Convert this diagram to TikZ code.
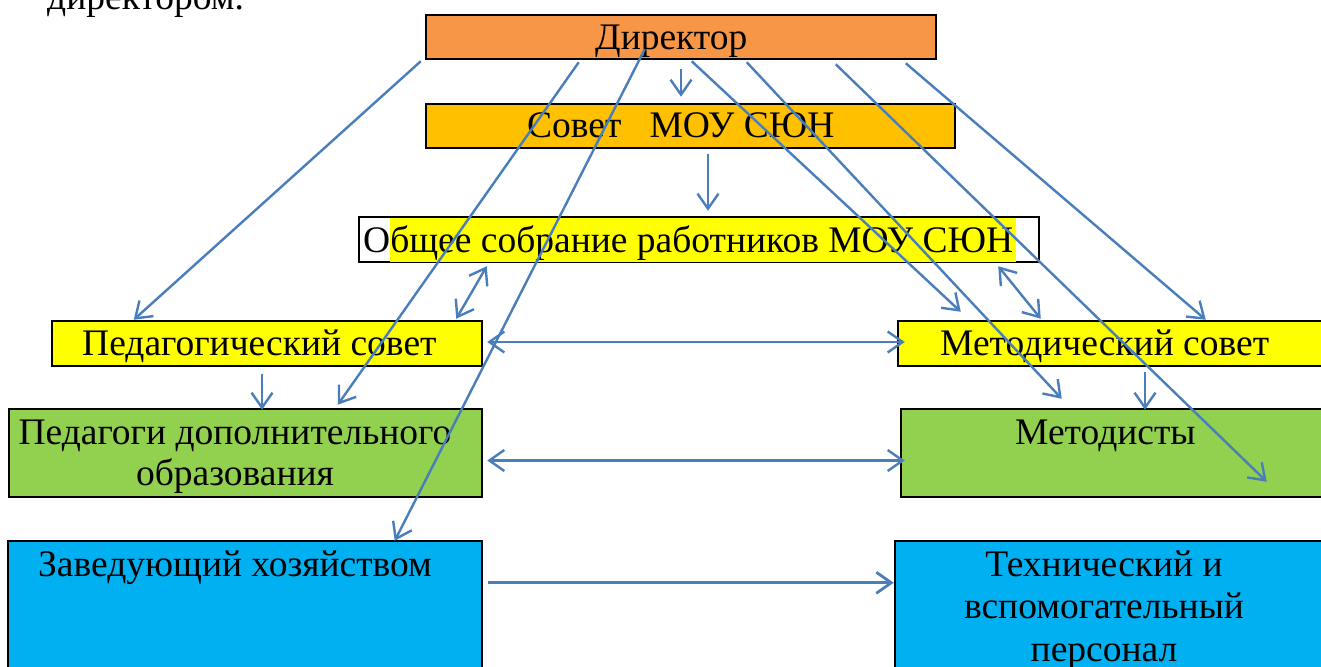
\documentclass[tikz,border=0pt]{standalone}
\usepackage{fontspec}
\setmainfont{Liberation Serif}
\usetikzlibrary{arrows.meta,fit}

\definecolor{dirorange}{HTML}{F79646}
\definecolor{sovgold}{HTML}{FFC000}
\definecolor{hlyellow}{HTML}{FFFF00}
\definecolor{boxgreen}{HTML}{92D050}
\definecolor{boxcyan}{HTML}{00B0F0}
\definecolor{arrblue}{HTML}{4A7EBB}

\tikzset{
    box/.style={draw=black, line width=2.5pt, inner sep=0pt},
    lbl/.style={font=\fontsize{37.5}{41}\selectfont, inner sep=0pt, anchor=base west},
    barb/.tip={Straight Barb[length=15pt,width=21pt]},
    arr/.style={draw=arrblue, line width=2.4pt, -barb},
    darr/.style={draw=arrblue, line width=2.4pt, barb-barb},
}

\begin{document}
\begin{tikzpicture}[x=1pt, y=-1pt]
        \useasboundingbox (0,0) rectangle (1321,666);

        \node[lbl] (prev) at (47,10) {директором.};

        \node[box, fill=dirorange, fit={(426,15) (936,59)}] (dir) {};
        \node[box, fill=sovgold, fit={(426,104) (955,148)}] (sovet) {};
        \node[box, fill=white, fit={(359,217) (1039,262)}] (sobr) {};
        \fill[hlyellow] ([xshift=32pt,yshift=-2pt]sobr.north west) rectangle ([xshift=-24pt,yshift=1.5pt]sobr.south east);
        \node[box, fill=hlyellow, fit={(52,321) (482,366)}] (pedsov) {};
        \node[box, fill=hlyellow, fit={(898,321) (1340,366)}] (metsov) {};
        \node[box, fill=boxgreen, fit={(9,409) (482,497)}] (pedagog) {};
        \node[box, fill=boxgreen, fit={(901,409) (1340,497)}] (metod) {};
        \node[box, fill=boxcyan, fit={(8,541) (482,690)}] (zav) {};
        \node[box, fill=boxcyan, fit={(895,541) (1340,690)}] (tech) {};

        \node[lbl] (tdir) at (595,50) {Директор};
        \node[lbl] (tsovet) at (527,137) {Совет\ \ \ МОУ СЮН};
        \node[lbl] (tsobr) at (363,252) {Общее собрание работников МОУ СЮН};
        \node[lbl] (tpedsov) at (82,355) {Педагогический совет};
        \node[lbl] (tmetsov) at (940,355) {Методический совет};
        \node[lbl, anchor=base, align=center] (tpedagog) at (235,485) {Педагоги дополнительного\\образования};
        \node[lbl] (tmetod) at (1015,444) {Методисты};
        \node[lbl] (tzav) at (38,576) {Заведующий хозяйством};
        \node[lbl, anchor=base, align=center, font=\fontsize{37.5}{42.5}\selectfont] (ttech) at (1104,661) {Технический и\\вспомогательный\\персонал};

        \draw[arr] ([xshift=-4pt,yshift=-1pt]dir.south west) -- ([xshift=83pt]pedsov.north west);
        \draw[arr] ([xshift=154pt,yshift=-2pt]dir.south west) -- ([xshift=330pt,yshift=3pt]pedagog.north west);
        \draw[arr] ([xshift=220pt,yshift=11pt]dir.south west) -- ([xshift=388pt,yshift=-1pt]zav.north west);
        \draw[arr] ([yshift=-9pt]dir.south) -- ([xshift=-9.5pt,yshift=6pt]sovet.north);
        \draw[arr] ([xshift=17.5pt,yshift=-5pt]sovet.south) -- ([xshift=9pt,yshift=5pt]sobr.north);
        \draw[arr] ([xshift=267pt,yshift=-1pt]dir.south west) -- ([xshift=64pt,yshift=8pt]metsov.north west);
        \draw[arr] ([xshift=322pt,yshift=-2pt]dir.south west) -- ([xshift=162pt,yshift=9pt]metod.north west);
        \draw[arr] ([xshift=411pt,yshift=-4pt]dir.south west) -- ([xshift=367pt,yshift=-74pt]metod.north west);
        \draw[arr] ([xshift=481pt,yshift=-3pt]dir.south west) -- ([xshift=309pt]metsov.north west);
        \draw[darr] ([xshift=129pt,yshift=-3pt]sobr.south west) -- ([xshift=-27pt,yshift=1pt]pedsov.north east);
        \draw[darr] ([xshift=-42pt,yshift=-3pt]sobr.south east) -- ([xshift=144pt,yshift=1pt]metsov.north west);
        \draw[darr] ([xshift=4pt,yshift=1.5pt]pedsov.east) -- ([xshift=8pt,yshift=1.5pt]metsov.west);
        \draw[arr] ([xshift=-5pt,yshift=-7pt]pedsov.south) -- ([xshift=16.5pt,yshift=-2pt]pedagog.north);
        \draw[arr] ([xshift=26pt,yshift=-5pt]metsov.south) -- ([xshift=24.5pt,yshift=-2pt]metod.north);
        \draw[darr] ([xshift=4pt,yshift=-7.5pt]pedagog.east) -- ([xshift=5pt,yshift=-7.5pt]metod.west);
        \draw[arr, line width=2.8pt] ([xshift=5pt,yshift=-43pt]zav.north east) -- ([yshift=-43pt]tech.north west);
\end{tikzpicture}
\end{document}
